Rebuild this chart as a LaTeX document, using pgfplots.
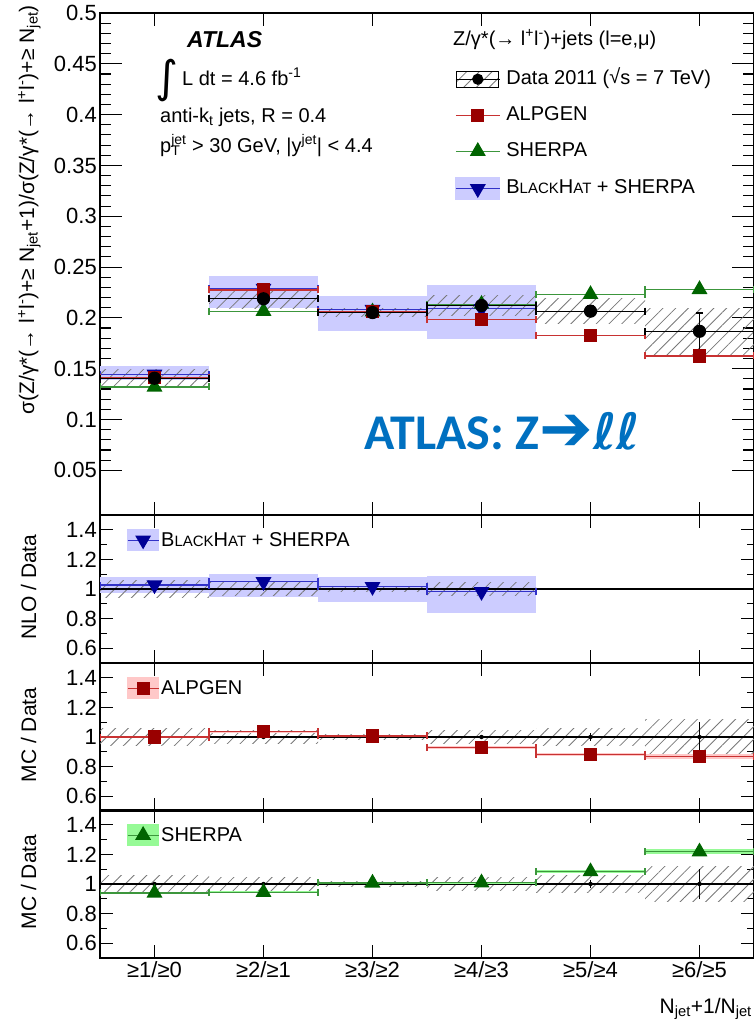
\documentclass[border=0pt]{standalone}
\usepackage{fontspec}
\setmainfont{Liberation Sans}
\newfontfamily\carlito{Carlito}
\newfontfamily\dejavu{DejaVu Sans}
\usepackage{pgfplots}
\usepackage{pgfplotstable}
\pgfplotsset{compat=1.18}
\usetikzlibrary{patterns.meta}

\definecolor{alpmark}{RGB}{153,0,0}
\definecolor{alpline}{RGB}{200,50,50}
\definecolor{alpband}{RGB}{255,200,200}
\definecolor{shmark}{RGB}{0,100,0}
\definecolor{shline}{RGB}{60,150,60}
\definecolor{shband}{RGB}{150,250,150}
\definecolor{bhmark}{RGB}{0,0,150}
\definecolor{bhline}{RGB}{50,50,200}
\definecolor{bhband}{RGB}{204,204,255}
\definecolor{atlasblue}{RGB}{0,112,192}
\definecolor{hatchgray}{RGB}{120,120,120}

\newcommand\fsz[1]{\fontsize{#1bp}{#1bp}\selectfont}
\newcommand{\bandrect}[5]{\addplot[#5, forget plot] coordinates {(#1,#3) (#2,#3) (#2,#4) (#1,#4)} -- cycle;}

\pgfplotstableread{
x data dstat alp sh
1 0.1406 0.0010 0.1415 0.1320
2 0.2188 0.0015 0.2275 0.2066
3 0.2052 0.0015 0.2065 0.2060
4 0.2122 0.0030 0.1983 0.2135
5 0.2066 0.0050 0.1829 0.2231
6 0.1868 0.0180 0.1625 0.2280
}\maintab
\pgfplotstableread{
x bh
1 0.1445
2 0.2290
3 0.2082
4 0.2089
}\bhtab
\pgfplotstableread{
x bhr
1 1.027
2 1.049
3 1.016
4 0.982
}\bhratio
\pgfplotstableread{
x alpr shr one dstat
1 1.000 0.940 1 0.007
2 1.036 0.944 1 0.007
3 1.007 1.007 1 0.007
4 0.929 1.009 1 0.015
5 0.884 1.084 1 0.025
6 0.867 1.218 1 0.100
}\mcratio

\pgfplotsset{
  hatch/.style={draw=none, pattern={Lines[angle=45,distance=9bp,line width=0.8bp]}, pattern color=hatchgray},
  datastyle/.style={black, mark=*, mark size=6bp, line width=1.2bp},
  alpstyle/.style={alpline, mark=square*, mark size=6bp, mark options={draw=alpmark, fill=alpmark, rotate=0}, line width=1.2bp},
  shstyle/.style={shline, mark=triangle*, mark size=8bp, mark options={draw=shmark, fill=shmark}, line width=1.2bp},
  bhstyle/.style={bhline, mark=triangle*, mark size=8bp, mark options={draw=bhmark, fill=bhmark, rotate=180}, line width=1.2bp},
  legdata/.style={legend image code/.code={%
    \fill[pattern={Lines[angle=45,distance=9bp,line width=0.8bp]}, pattern color=hatchgray] (1bp,-8bp) rectangle (43bp,8bp);
    \draw[##1, mark repeat=2, mark phase=2, mark size=5bp] plot coordinates {(0bp,0bp) (22bp,0bp) (44bp,0bp)};}},
  legmain/.style={legend image code/.code={%
    \draw[##1, mark repeat=2, mark phase=2] plot coordinates {(0bp,0bp) (22bp,0bp) (44bp,0bp)};}},
  legmainbh/.style={legend image code/.code={%
    \fill[bhband] (0bp,-11bp) rectangle (44bp,11bp);
    \draw[##1, mark repeat=2, mark phase=2] plot coordinates {(0bp,0bp) (22bp,0bp) (44bp,0bp)};}},
  legrbh/.style={legend image code/.code={%
    \fill[bhband] (0bp,-10.5bp) rectangle (31bp,10.5bp);
    \draw[##1, mark repeat=2, mark phase=2] plot coordinates {(0bp,0bp) (15.5bp,0bp) (31bp,0bp)};}},
  legralp/.style={legend image code/.code={%
    \fill[alpband] (0bp,-10.5bp) rectangle (31bp,10.5bp);
    \draw[##1, mark repeat=2, mark phase=2] plot coordinates {(0bp,0bp) (15.5bp,0bp) (31bp,0bp)};}},
  legrsh/.style={legend image code/.code={%
    \fill[shband] (0bp,-10.5bp) rectangle (31bp,10.5bp);
    \draw[##1, mark repeat=2, mark phase=2] plot coordinates {(0bp,0bp) (15.5bp,0bp) (31bp,0bp)};}},
  atlasaxis/.style={
    scale only axis, width=654bp,
    xmin=0.5, xmax=6.5, xtick={1,2,3,4,5,6},
    tick align=inside,
    axis line style={line width=1.5bp},
    every tick/.style={black, line width=1.1bp},
    xtick style={/pgfplots/major tick length=13bp},
    scaled y ticks=false,
    yticklabel style={font=\fsz{22}, /pgf/number format/fixed, /pgf/number format/precision=2, /pgf/number format/assume math mode=true, inner xsep=3bp},
    xticklabel style={font=\fsz{22}},
  },
  ratioaxis/.style={atlasaxis, height=148bp, ymin=0.5, ymax=1.5,
    ytick={0.6,0.8,1,1.2,1.4}, minor y tick num=1,
    major tick length=13bp, minor tick length=7bp,
    legend style={draw=none, fill=none, inner sep=0pt, font=\fsz{20}, at={(rel axis cs:0.041,0.83)}, anchor=west},
    legend cell align=left},
}

\begin{document}
\begin{tikzpicture}[x=1bp,y=1bp]
\useasboundingbox (0,0) rectangle (754,-1022);

% ---------------- main panel ----------------
\begin{axis}[atlasaxis, at={(100bp,-13bp)}, anchor=north west, height=502bp,
  ymin=0.006, ymax=0.5,
  ytick={0.05,0.1,0.15,0.2,0.25,0.3,0.35,0.4,0.45,0.5}, minor y tick num=4,
  major tick length=22bp, minor tick length=11bp,
  xticklabel=\empty,
  legend style={draw=none, fill=none, inner sep=0pt, font=\fsz{20},
    at={(rel axis cs:0.5428,0.8884)}, anchor=north west,
    row sep=16bp, column sep=4bp,
    nodes={text height=15bp, text depth=5bp, inner ysep=0bp}},
  legend cell align=left]
\bandrect{0.5}{1.5}{0.1389}{0.1522}{fill=bhband, draw=none}
\bandrect{1.5}{2.5}{0.2099}{0.2413}{fill=bhband, draw=none}
\bandrect{2.5}{3.5}{0.1868}{0.2215}{fill=bhband, draw=none}
\bandrect{3.5}{4.5}{0.1795}{0.2320}{fill=bhband, draw=none}
\bandrect{0.5}{1.5}{0.1322}{0.1490}{hatch}
\bandrect{1.5}{2.5}{0.2090}{0.2286}{hatch}
\bandrect{2.5}{3.5}{0.2011}{0.2093}{hatch}
\bandrect{3.5}{4.5}{0.2027}{0.2217}{hatch}
\bandrect{4.5}{5.5}{0.1942}{0.2190}{hatch}
\bandrect{5.5}{6.5}{0.1644}{0.2092}{hatch}
\addplot[shstyle, only marks, forget plot, error bars/.cd, x dir=both, x fixed=0.5,
  error bar style={shline, line width=1.2bp}, error mark options={shline, rotate=90, mark size=3.5bp, line width=1.2bp}]
  table[x=x, y=sh] {\maintab};
\addplot[bhstyle, only marks, forget plot, error bars/.cd, x dir=both, x fixed=0.5,
  error bar style={bhline, line width=1.2bp}, error mark options={bhline, rotate=90, mark size=3.5bp, line width=1.2bp}]
  table[x=x, y=bh] {\bhtab};
\addplot[alpstyle, only marks, forget plot, error bars/.cd, x dir=both, x fixed=0.5,
  error bar style={alpline, line width=1.2bp}, error mark options={alpline, rotate=90, mark size=3.5bp, line width=1.2bp}]
  table[x=x, y=alp] {\maintab};
\addplot[datastyle, only marks, forget plot, error bars/.cd, x dir=both, x fixed=0.5, y dir=both, y explicit,
  error bar style={black, line width=1.2bp}, error mark options={black, rotate=90, mark size=3.5bp, line width=1.2bp}]
  table[x=x, y=data, y error=dstat] {\maintab};

\addlegendimage{datastyle, legdata}
\addlegendentry{Data 2011 (\raisebox{0.05em}{√}s = 7 TeV)}
\addlegendimage{alpstyle, legmain}
\addlegendentry{ALPGEN}
\addlegendimage{shstyle, legmain}
\addlegendentry{SHERPA}
\addlegendimage{bhstyle, legmainbh}
\addlegendentry{B{\fsz{15}LACK}H{\fsz{15}AT} + SHERPA}
\end{axis}

% ---------------- NLO / Data ----------------
\begin{axis}[ratioaxis, at={(100bp,-515bp)}, anchor=north west, xticklabel=\empty]
\bandrect{0.5}{1.5}{0.971}{1.078}{fill=bhband, draw=none}
\bandrect{1.5}{2.5}{0.949}{1.100}{fill=bhband, draw=none}
\bandrect{2.5}{3.5}{0.911}{1.078}{fill=bhband, draw=none}
\bandrect{3.5}{4.5}{0.840}{1.089}{fill=bhband, draw=none}
\bandrect{0.5}{1.5}{0.940}{1.060}{hatch}
\bandrect{1.5}{2.5}{0.955}{1.045}{hatch}
\bandrect{2.5}{3.5}{0.980}{1.020}{hatch}
\bandrect{3.5}{4.5}{0.955}{1.045}{hatch}
\addplot[black, line width=1.3bp, forget plot] coordinates {(0.5,1) (6.5,1)};
\addplot[bhstyle, only marks, forget plot, error bars/.cd, x dir=both, x fixed=0.5,
  error bar style={bhline, line width=1.2bp}, error mark options={bhline, rotate=90, mark size=3.5bp, line width=1.2bp}]
  table[x=x, y=bhr] {\bhratio};
\addlegendimage{bhstyle, legrbh}
\addlegendentry{B{\fsz{15}LACK}H{\fsz{15}AT} + SHERPA}
\end{axis}

% ---------------- ALPGEN / Data ----------------
\begin{axis}[ratioaxis, at={(100bp,-663bp)}, anchor=north west, xticklabel=\empty]
\bandrect{0.5}{1.5}{0.940}{1.060}{hatch}
\bandrect{1.5}{2.5}{0.955}{1.045}{hatch}
\bandrect{2.5}{3.5}{0.980}{1.020}{hatch}
\bandrect{3.5}{4.5}{0.955}{1.045}{hatch}
\bandrect{4.5}{5.5}{0.940}{1.060}{hatch}
\bandrect{5.5}{6.5}{0.880}{1.120}{hatch}
\addplot[black, line width=1.3bp, forget plot] coordinates {(0.5,1) (6.5,1)};
\addplot[black, only marks, mark=none, forget plot, error bars/.cd, y dir=both, y explicit,
  error bar style={black, line width=1bp}, error mark=none]
  table[x=x, y=one, y error=dstat] {\mcratio};
\bandrect{0.5}{1.5}{0.993}{1.007}{fill=alpband, draw=none}
\bandrect{1.5}{2.5}{1.029}{1.043}{fill=alpband, draw=none}
\bandrect{2.5}{3.5}{0.999}{1.015}{fill=alpband, draw=none}
\bandrect{3.5}{4.5}{0.921}{0.937}{fill=alpband, draw=none}
\bandrect{4.5}{5.5}{0.874}{0.894}{fill=alpband, draw=none}
\bandrect{5.5}{6.5}{0.850}{0.885}{fill=alpband, draw=none}
\addplot[alpstyle, only marks, forget plot, error bars/.cd, x dir=both, x fixed=0.5,
  error bar style={alpline, line width=1.2bp}, error mark options={alpline, rotate=90, mark size=3.5bp, line width=1.2bp}]
  table[x=x, y=alpr] {\mcratio};
\addlegendimage{alpstyle, legralp}
\addlegendentry{ALPGEN}
\end{axis}

% ---------------- SHERPA / Data ----------------
\begin{axis}[ratioaxis, at={(100bp,-810bp)}, anchor=north west,
  xticklabels={≥1/≥0, ≥2/≥1, ≥3/≥2, ≥4/≥3, ≥5/≥4, ≥6/≥5}]
\bandrect{0.5}{1.5}{0.940}{1.060}{hatch}
\bandrect{1.5}{2.5}{0.955}{1.045}{hatch}
\bandrect{2.5}{3.5}{0.980}{1.020}{hatch}
\bandrect{3.5}{4.5}{0.955}{1.045}{hatch}
\bandrect{4.5}{5.5}{0.940}{1.060}{hatch}
\bandrect{5.5}{6.5}{0.880}{1.120}{hatch}
\addplot[black, line width=1.3bp, forget plot] coordinates {(0.5,1) (6.5,1)};
\addplot[black, only marks, mark=none, forget plot, error bars/.cd, y dir=both, y explicit,
  error bar style={black, line width=1bp}, error mark=none]
  table[x=x, y=one, y error=dstat] {\mcratio};
\bandrect{0.5}{1.5}{0.934}{0.946}{fill=shband, draw=none}
\bandrect{1.5}{2.5}{0.938}{0.950}{fill=shband, draw=none}
\bandrect{2.5}{3.5}{1.001}{1.013}{fill=shband, draw=none}
\bandrect{3.5}{4.5}{1.002}{1.016}{fill=shband, draw=none}
\bandrect{4.5}{5.5}{1.073}{1.095}{fill=shband, draw=none}
\bandrect{5.5}{6.5}{1.200}{1.236}{fill=shband, draw=none}
\addplot[shstyle, only marks, forget plot, error bars/.cd, x dir=both, x fixed=0.5,
  error bar style={shline, line width=1.2bp}, error mark options={shline, rotate=90, mark size=3.5bp, line width=1.2bp}]
  table[x=x, y=shr] {\mcratio};
\addlegendimage{shstyle, legrsh}
\addlegendentry{SHERPA}
\end{axis}

% ---------------- texts ----------------
\node[anchor=base west, inner sep=0, font=\fsz{23}\bfseries\itshape] at (187,-47) {ATLAS};
\node[anchor=base west, inner sep=0, font=\dejavu\fsz{44}] at (155,-92) {∫};
\node[anchor=base west, inner sep=0, font=\fsz{20}] at (182,-85) {L dt = 4.6 fb\textsuperscript{-1}};
\node[anchor=base west, inner sep=0, font=\fsz{20}] at (160,-122) {anti-k\textsubscript{t} jets, R = 0.4};
\node[anchor=base west, inner sep=0, font=\fsz{20}] at (160,-152) {p\rlap{\textsubscript{T}}\textsuperscript{jet} > 30 GeV, |y\textsuperscript{jet}| < 4.4};
\node[anchor=base west, inner sep=0, font=\fsz{20}] at (453,-45) {Z/γ*(→ l\textsuperscript{+}l\textsuperscript{-})+jets (l=e,μ)};
\node[anchor=base west, inner sep=0, text=atlasblue, font=\carlito\bfseries\fsz{50}] at (364,-449) {ATLAS: Z{\dejavu\fsz{64}\raisebox{-0.02em}{➔}}{\dejavu\bfseries ℓℓ}};

\node[rotate=90, anchor=base east, inner sep=0, font=\fsz{21}] at (34,-5) {σ(Z/γ*(→ l\textsuperscript{+}l\textsuperscript{-})+≥ N\textsubscript{jet}+1)/σ(Z/γ*(→ l\textsuperscript{+}l\textsuperscript{-})+≥ N\textsubscript{jet})};
\node[rotate=90, anchor=base, inner sep=0, font=\fsz{21}] at (36,-587) {NLO / Data};
\node[rotate=90, anchor=base, inner sep=0, font=\fsz{21}] at (36,-735) {MC / Data};
\node[rotate=90, anchor=base, inner sep=0, font=\fsz{21}] at (36,-882) {MC / Data};
\node[anchor=base east, inner sep=0, font=\fsz{21}] at (752,-1013) {N\textsubscript{jet}+1/N\textsubscript{jet}};
\end{tikzpicture}
\end{document}
